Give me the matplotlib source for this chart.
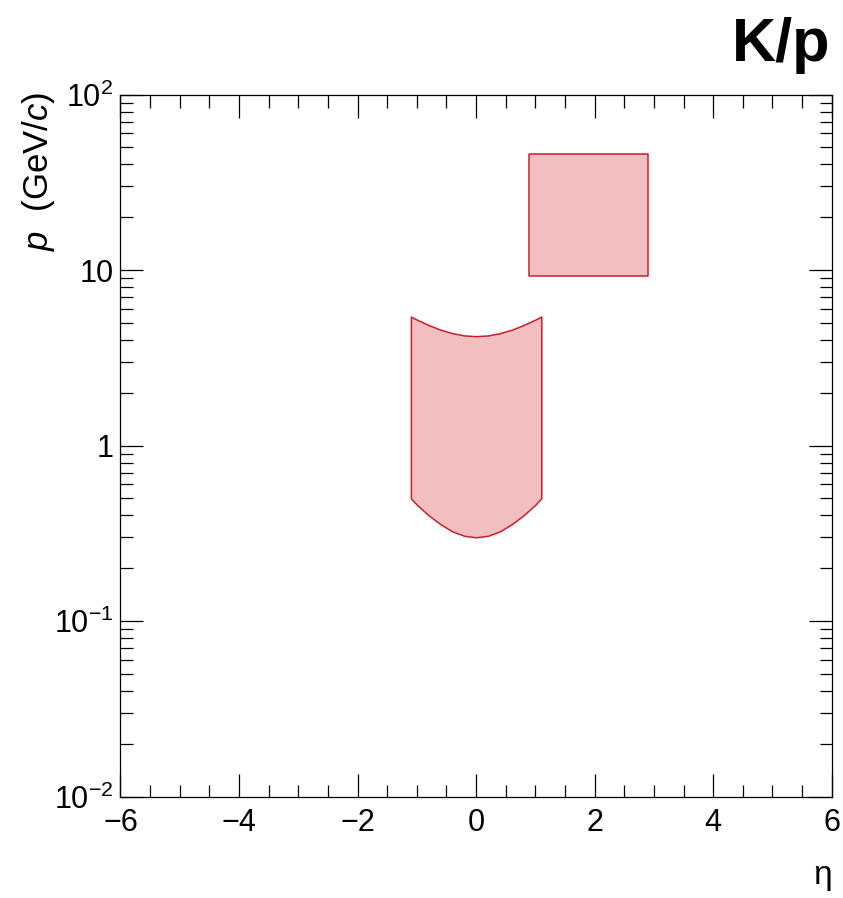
import numpy as np
import matplotlib
matplotlib.use("Agg")
import matplotlib.pyplot as plt
from matplotlib.ticker import MultipleLocator, LogLocator, FixedLocator, FixedFormatter

plt.rcParams['font.family'] = ['Liberation Sans', 'DejaVu Sans']
plt.rcParams['mathtext.fontset'] = 'custom'
plt.rcParams['mathtext.rm'] = 'Liberation Sans'
plt.rcParams['mathtext.it'] = 'Liberation Sans:italic'
plt.rcParams['mathtext.bf'] = 'Liberation Sans:bold'

# central barrel region (eta, p range)
eta_barrel = [-1.1, -1.0, -0.8, -0.6, -0.4, -0.2, 0.0, 0.2, 0.4, 0.6, 0.8, 1.0, 1.1]
p_barrel_lo = [0.50, 0.46, 0.40, 0.356, 0.324, 0.306, 0.30, 0.306, 0.324, 0.356, 0.40, 0.46, 0.50]
p_barrel_hi = [5.43, 5.22, 4.86, 4.57, 4.37, 4.24, 4.20, 4.24, 4.37, 4.57, 4.86, 5.22, 5.43]

# forward box region
eta_fwd = [0.9, 2.9]
p_fwd_lo = 9.3
p_fwd_hi = 46.0

xticks = [-6, -4, -2, 0, 2, 4, 6]
xticklabels = ['\u22126', '\u22124', '\u22122', '0', '2', '4', '6']
yticks = [1e-2, 1e-1, 1, 10, 100]
yticklabels = [r'$10^{-2}$', r'$10^{-1}$', '1', '10', r'$10^{2}$']

fill_c = '#f2bec0'
edge_c = '#c8202e'

fig = plt.figure(figsize=(8.43, 8.98), dpi=100)
ax = fig.add_axes([0.1429, 0.1130, 0.8437, 0.7817])

ax.fill_between(eta_barrel, p_barrel_lo, p_barrel_hi, facecolor=fill_c,
                edgecolor=edge_c, linewidth=1.1)
ax.fill_between(eta_fwd, p_fwd_lo, p_fwd_hi, facecolor=fill_c,
                edgecolor=edge_c, linewidth=1.1)

ax.set_yscale('log')
ax.set_xlim(-6, 6)
ax.set_ylim(1e-2, 1e2)

ax.xaxis.set_major_locator(FixedLocator(xticks))
ax.xaxis.set_major_formatter(FixedFormatter(xticklabels))
ax.xaxis.set_minor_locator(MultipleLocator(0.5))
ax.yaxis.set_major_locator(FixedLocator(yticks))
ax.yaxis.set_major_formatter(FixedFormatter(yticklabels))
ax.yaxis.set_minor_locator(LogLocator(base=10, subs=np.arange(2, 10)))
ax.yaxis.set_minor_formatter(FixedFormatter([]))

ax.tick_params(which='both', direction='in', top=True, right=True, width=0.9,
               labelsize=22)
ax.tick_params(which='major', length=16.5)
ax.tick_params(which='minor', length=9)
ax.tick_params(axis='x', pad=8)
ax.tick_params(axis='y', pad=5)
for s in ax.spines.values():
    s.set_linewidth(0.9)

fig.text(0.987, 0.016, '\u03b7', ha='right', va='baseline', fontsize=24)
fig.text(0.046, 0.898, r'$p$  (GeV/$c$)', rotation=90, ha='center', va='top',
         fontsize=25)
fig.text(0.985, 0.932, 'K/p', ha='right', va='baseline', fontsize=44,
         fontweight='bold')

fig.savefig('out.png', dpi=100)
